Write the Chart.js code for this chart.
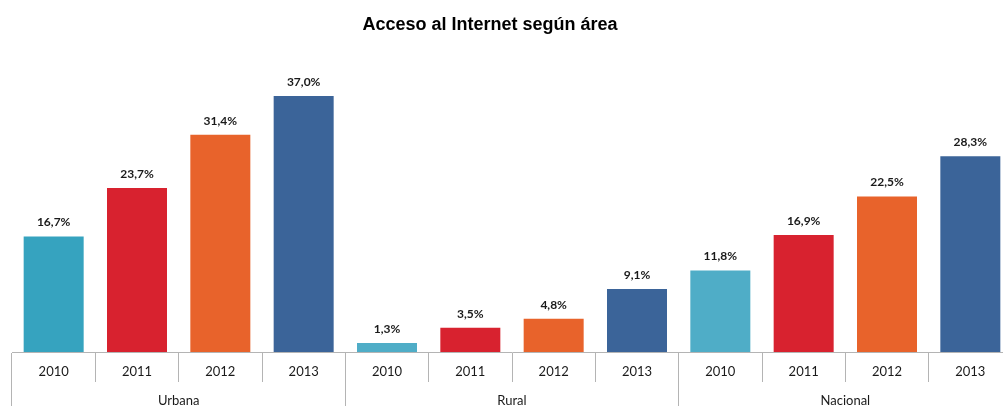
<!DOCTYPE html>
<html><head><meta charset="utf-8">
<script src="https://cdn.jsdelivr.net/npm/chart.js@4"></script>
<style>html,body{margin:0;padding:0;background:#fff;overflow:hidden;width:1003px;height:406px}#wrap{width:1012px;height:406px}</style>
</head><body><div id="wrap"><canvas id="c" width="1012" height="406"></canvas></div>
<script>
const chartTitle = 'Acceso al Internet según área';
const areas = ['Urbana', 'Rural', 'Nacional'];
const years = ['2010', '2011', '2012', '2013'];
const urbana = [16.7, 23.7, 31.4, 37.0];
const rural = [1.3, 3.5, 4.8, 9.1];
const nacional = [11.8, 16.9, 22.5, 28.3];
const urbanaColors = ['#36a3bf', '#d8222f', '#e8632b', '#3b6499'];
const ruralColors = ['#4fadc7', '#d8222f', '#e8632b', '#3b6499'];
const nacionalColors = ['#4fadc7', '#d8222f', '#e8632b', '#3b6499'];

const labels = [...years, ...years, ...years];
const values = [...urbana, ...rural, ...nacional];
const colors = [...urbanaColors, ...ruralColors, ...nacionalColors];
const fmt = v => v.toFixed(1).replace('.', ',') + '%';

const gridColor = '#b4b4b4';
const textColor = '#1a1a1a';

const titlePlugin = {
  id: 'customTitle',
  afterDraw(chart) {
    const ctx = chart.ctx;
    ctx.save();
    ctx.font = 'bold 18px "Liberation Sans", Arial, sans-serif';
    ctx.fillStyle = '#000';
    ctx.textAlign = 'center';
    ctx.textBaseline = 'middle';
    ctx.fillText(chartTitle, 490, 25);
    ctx.restore();
  }
};
const valueLabels = {
  id: 'valueLabels',
  afterDatasetsDraw(chart) {
    const ctx = chart.ctx;
    const meta = chart.getDatasetMeta(0);
    ctx.save();
    ctx.font = 'bold 12px Lato, sans-serif';
    ctx.fillStyle = textColor;
    ctx.textAlign = 'center';
    ctx.textBaseline = 'middle';
    meta.data.forEach((bar, i) => {
      ctx.fillText(fmt(values[i]), bar.x, bar.y - 14);
    });
    ctx.restore();
  }
};

new Chart(document.getElementById('c'), {
  type: 'bar',
  data: {
    labels: labels,
    datasets: [{
      data: values,
      backgroundColor: colors,
      borderWidth: 0,
      categoryPercentage: 1,
      barPercentage: 0.72
    }]
  },
  options: {
    responsive: false,
    animation: false,
    devicePixelRatio: 1,
    layout: { padding: { left: 12, right: 0, top: 56, bottom: 0 } },
    plugins: { legend: { display: false }, tooltip: { enabled: false }, title: { display: false } },
    scales: {
      y: { display: false, min: 0, max: 42.8 },
      x: {
        type: 'category',
        position: 'bottom',
        offset: true,
        grid: { offset: true, drawOnChartArea: false, drawTicks: true, tickLength: 30, color: gridColor, lineWidth: 1 },
        border: { display: true, color: gridColor, width: 1 },
        ticks: { padding: -18, maxRotation: 0, autoSkip: false, color: textColor, font: { family: 'Lato', size: 13 } },
        afterFit(s) { s.height = 30; }
      },
      x2: {
        type: 'category',
        position: 'bottom',
        labels: areas,
        offset: true,
        grid: { offset: true, drawOnChartArea: false, drawTicks: true, tickLength: 30, color: gridColor, lineWidth: 1 },
        border: { display: false },
        ticks: { padding: -19, maxRotation: 0, autoSkip: false, color: textColor, font: { family: 'Lato', size: 13 } },
        afterFit(s) { s.height = 24; }
      }
    }
  },
  plugins: [titlePlugin, valueLabels]
});
</script>
</body></html>
